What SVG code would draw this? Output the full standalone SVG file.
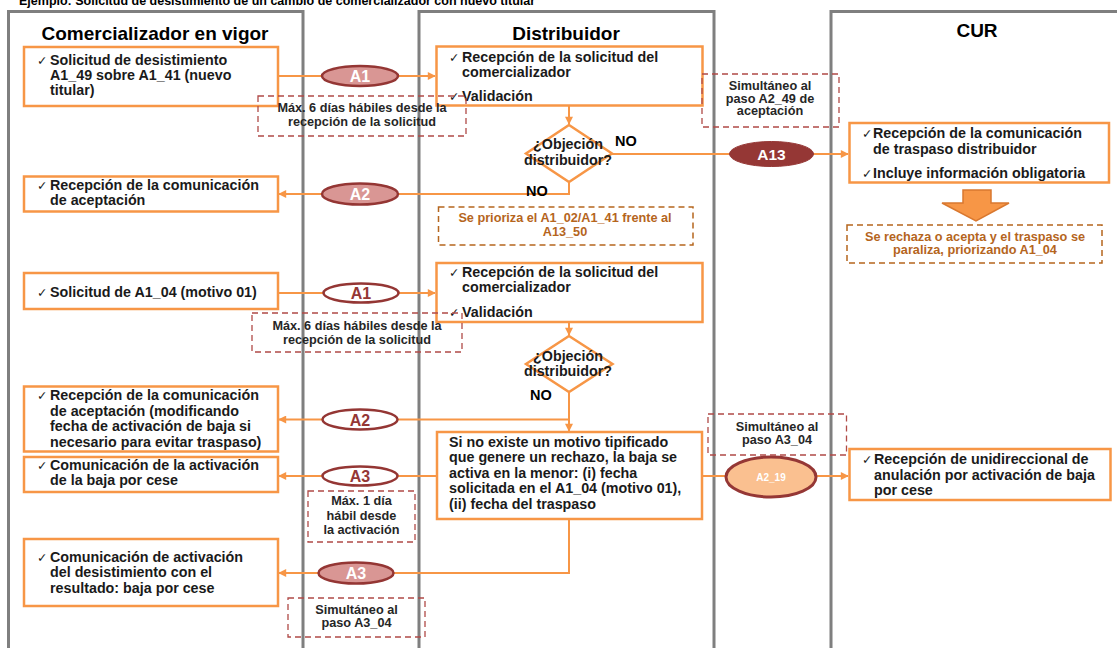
<svg xmlns="http://www.w3.org/2000/svg" width="1117" height="648" viewBox="0 0 1117 648">
<defs>
<style>
.lane{fill:none;stroke:#7F7F7F;stroke-width:3}
.box{fill:#fff;stroke:#F79646;stroke-width:2.5}
.dia{fill:#fff;stroke:#F79646;stroke-width:2.5}
.con{fill:none;stroke:#F79646;stroke-width:2}
.dr{fill:none;stroke:#B04A47;stroke-width:1.3;stroke-dasharray:6 4}
.db{fill:none;stroke:#B5651D;stroke-width:1.5;stroke-dasharray:6 4}
text{font-family:"Liberation Sans",Arial,sans-serif;font-weight:bold}
.t{font-size:14.3px;fill:#1a1a1a}
.ck{font-family:"DejaVu Sans",sans-serif;font-weight:normal;font-size:12.5px}
.h{font-size:19px;fill:#000;text-anchor:middle}
.n{font-size:12.7px;fill:#262626;text-anchor:middle}
.nb{font-size:12.7px;fill:#B5651D;text-anchor:middle}
.dt{font-size:14.3px;fill:#1a1a1a;text-anchor:middle}
.no{font-size:14.5px;fill:#000}
.ep{fill:#D99694;stroke:#943634;stroke-width:2.5}
.ew{fill:#fff;stroke:#943634;stroke-width:2.5}
.ed{fill:#953735;stroke:#953735;stroke-width:1}
.eo{fill:#FAC090;stroke:#953735;stroke-width:3}
.lw{font-size:16px;fill:#fff;text-anchor:middle}
.lr{font-size:16px;fill:#953735;text-anchor:middle}
</style>
<marker id="ah" viewBox="0 0 10 10" refX="9" refY="5" markerWidth="9" markerHeight="8" markerUnits="userSpaceOnUse" orient="auto">
<path d="M0,0 L10,5 L0,10 Z" fill="#F79646"/>
</marker>
</defs>
<rect width="1117" height="648" fill="#fff"/>
<text x="19" y="5" style="font-size:12.5px;fill:#000">Ejemplo: Solicitud de desistimiento de un cambio de comercializador con nuevo titular</text>

<g id="lanes">
<rect class="lane" x="8.5" y="11.5" width="294.5" height="660"/>
<rect class="lane" x="419" y="11.5" width="295" height="660"/>
<rect class="lane" x="831" y="11.5" width="300" height="660"/>
<text class="h" x="155" y="39.5">Comercializador en vigor</text>
<text class="h" x="566" y="40">Distribuidor</text>
<text class="h" x="977" y="37">CUR</text>
</g>

<g id="connectors">
<line class="con" x1="278" y1="76" x2="435" y2="76" marker-end="url(#ah)"/>
<line class="con" x1="569" y1="106" x2="569" y2="124" marker-end="url(#ah)"/>
<line class="con" x1="612" y1="154" x2="848" y2="154" marker-end="url(#ah)"/>
<polyline class="con" points="569,182 569,194 279,194" marker-end="url(#ah)"/>
<line class="con" x1="278" y1="293" x2="435" y2="293" marker-end="url(#ah)"/>
<line class="con" x1="569" y1="322" x2="569" y2="335" marker-end="url(#ah)"/>
<line class="con" x1="569" y1="392" x2="569" y2="431" marker-end="url(#ah)"/>
<line class="con" x1="569" y1="419.5" x2="279" y2="419.5" marker-end="url(#ah)"/>
<line class="con" x1="437" y1="476" x2="279" y2="476" marker-end="url(#ah)"/>
<line class="con" x1="702" y1="476" x2="848" y2="476" marker-end="url(#ah)"/>
<polyline class="con" points="569,519 569,573 279,573" marker-end="url(#ah)"/>
</g>

<g id="label-a1-1"><ellipse class="ep" cx="360" cy="76" rx="38" ry="10"/><text class="lw" x="360" y="82">A1</text></g>
<g id="label-a2-1"><ellipse class="ep" cx="360" cy="194" rx="38" ry="10.5"/><text class="lw" x="360" y="200">A2</text></g>
<g id="label-a13"><ellipse class="ed" cx="771.5" cy="154" rx="42" ry="12.5"/><text class="lw" x="771.5" y="159.5" style="font-size:15.5px">A13</text></g>
<g id="label-a1-2"><ellipse class="ew" cx="361" cy="293" rx="37.5" ry="9.5"/><text class="lr" x="361" y="299">A1</text></g>
<g id="label-a2-2"><ellipse class="ew" cx="360" cy="419.5" rx="37.5" ry="10"/><text class="lr" x="360" y="425.5">A2</text></g>
<g id="label-a3-1"><ellipse class="ew" cx="360" cy="476" rx="37.5" ry="9.5"/><text class="lr" x="360" y="482">A3</text></g>
<g id="label-a2-19"><ellipse class="eo" cx="771" cy="477" rx="45" ry="20"/><text x="771" y="481" style="font-size:10px;fill:#fff;text-anchor:middle">A2_19</text></g>
<g id="label-a3-2"><ellipse class="ep" cx="356" cy="573" rx="37.5" ry="10.5"/><text class="lw" x="356" y="579">A3</text></g>

<g id="box-l1"><rect class="box" x="24" y="47" width="254" height="59"/>
<text class="t" x="37" y="65"><tspan class="ck">✓</tspan><tspan x="50">Solicitud de desistimiento</tspan></text>
<text class="t" x="50" y="80">A1_49 sobre A1_41 (nuevo</text>
<text class="t" x="50" y="95">titular)</text></g>

<g id="box-d1"><rect class="box" x="436.5" y="46.5" width="266" height="59"/>
<text class="t" x="449" y="62"><tspan class="ck">✓</tspan><tspan x="462">Recepción de la solicitud del</tspan></text>
<text class="t" x="462" y="76.5">comercializador</text>
<text class="t" x="449" y="101"><tspan class="ck">✓</tspan><tspan x="462">Validación</tspan></text></g>

<g id="note-1"><rect class="dr" x="258" y="96" width="208" height="40"/>
<text class="n" x="362" y="112">Máx. 6 días hábiles desde la</text>
<text class="n" x="362" y="126">recepción de la solicitud</text></g>

<g id="note-2"><rect class="dr" x="702" y="74" width="137" height="53"/>
<text class="n" x="770" y="90">Simultáneo al</text>
<text class="n" x="770" y="102.5">paso A2_49 de</text>
<text class="n" x="770" y="115">aceptación</text></g>

<g id="decision-1"><polygon class="dia" points="569,125 612,153.5 569,182 526,153.5"/>
<text class="dt" x="568" y="149">¿Objeción</text>
<text class="dt" x="568" y="164.5">distribuidor?</text>
<text class="no" x="615" y="146">NO</text>
<text class="no" x="526" y="196">NO</text></g>

<g id="box-cur1"><rect class="box" x="849.5" y="123" width="259.5" height="59.5"/>
<text class="t" x="862" y="137.5"><tspan class="ck">✓</tspan><tspan x="873">Recepción de la comunicación</tspan></text>
<text class="t" x="873" y="153.5">de traspaso distribuidor</text>
<text class="t" x="862" y="177.5"><tspan class="ck">✓</tspan><tspan x="873">Incluye información obligatoria</tspan></text></g>

<g id="block-arrow"><polygon points="963,190 991,190 991,203 1009,203 976,221 942,203 963,203" fill="#F79646" stroke="#D9782F" stroke-width="1.5"/></g>

<g id="note-cur"><rect class="db" x="847" y="225" width="255" height="38"/>
<text class="nb" x="975" y="241">Se rechaza o acepta y el traspaso se</text>
<text class="nb" x="975" y="254">paraliza, priorizando A1_04</text></g>

<g id="box-l2"><rect class="box" x="24" y="176.5" width="254" height="35"/>
<text class="t" x="37" y="190"><tspan class="ck">✓</tspan><tspan x="50">Recepción de la comunicación</tspan></text>
<text class="t" x="50" y="205">de aceptación</text></g>

<g id="note-priority"><rect class="db" x="438.5" y="207" width="254.5" height="38"/>
<text class="nb" x="565" y="222">Se prioriza el A1_02/A1_41 frente al</text>
<text class="nb" x="565" y="235.5">A13_50</text></g>

<g id="box-l3"><rect class="box" x="24" y="273" width="254" height="36"/>
<text class="t" x="37" y="297"><tspan class="ck">✓</tspan><tspan x="50">Solicitud de A1_04 (motivo 01)</tspan></text></g>

<g id="box-d2"><rect class="box" x="436.5" y="263" width="266" height="59"/>
<text class="t" x="449" y="277"><tspan class="ck">✓</tspan><tspan x="462">Recepción de la solicitud del</tspan></text>
<text class="t" x="462" y="292">comercializador</text>
<text class="t" x="449" y="317"><tspan class="ck">✓</tspan><tspan x="462">Validación</tspan></text></g>

<g id="note-3"><rect class="dr" x="252" y="313" width="210" height="39"/>
<text class="n" x="357" y="330">Máx. 6 días hábiles desde la</text>
<text class="n" x="357" y="343.5">recepción de la solicitud</text></g>

<g id="decision-2"><polygon class="dia" points="569,336 612.5,364 569,392 526,364"/>
<text class="dt" x="568" y="360.5">¿Objeción</text>
<text class="dt" x="568" y="376">distribuidor?</text>
<text class="no" x="530" y="400">NO</text></g>

<g id="box-l4"><rect class="box" x="24" y="386.5" width="254" height="65"/>
<text class="t" x="37" y="400"><tspan class="ck">✓</tspan><tspan x="50">Recepción de la comunicación</tspan></text>
<text class="t" x="50" y="415.5">de aceptación (modificando</text>
<text class="t" x="50" y="431">fecha de activación de baja si</text>
<text class="t" x="50" y="446.5">necesario para evitar traspaso)</text></g>

<g id="note-4"><rect class="dr" x="708" y="414" width="138.5" height="41"/>
<text class="n" x="777" y="430.5">Simultáneo al</text>
<text class="n" x="777" y="443.5">paso A3_04</text></g>

<g id="box-d3"><rect class="box" x="437" y="432" width="265" height="87"/>
<text class="t" x="449" y="447">Si no existe un motivo tipificado</text>
<text class="t" x="449" y="462">que genere un rechazo, la baja se</text>
<text class="t" x="449" y="477.5">activa en la menor: (i) fecha</text>
<text class="t" x="449" y="493">solicitada en el A1_04 (motivo 01),</text>
<text class="t" x="449" y="508.5">(ii) fecha del traspaso</text></g>

<g id="box-cur2"><rect class="box" x="849.5" y="449" width="261" height="51"/>
<text class="t" x="862" y="464"><tspan class="ck">✓</tspan><tspan x="874">Recepción de unidireccional de</tspan></text>
<text class="t" x="874" y="479.5">anulación por activación de baja</text>
<text class="t" x="874" y="494.5">por cese</text></g>

<g id="box-l5"><rect class="box" x="24" y="457" width="254" height="35"/>
<text class="t" x="37" y="470"><tspan class="ck">✓</tspan><tspan x="50">Comunicación de la activación</tspan></text>
<text class="t" x="50" y="485">de la baja por cese</text></g>

<g id="note-5"><rect class="dr" x="308" y="491" width="107" height="51"/>
<text class="n" x="361.5" y="505">Máx. 1 día</text>
<text class="n" x="361.5" y="519.5">hábil desde</text>
<text class="n" x="361.5" y="533.5">la activación</text></g>

<g id="box-l6"><rect class="box" x="24" y="539" width="254" height="67"/>
<text class="t" x="37" y="562"><tspan class="ck">✓</tspan><tspan x="50">Comunicación de activación</tspan></text>
<text class="t" x="50" y="577">del desistimiento con el</text>
<text class="t" x="50" y="593">resultado: baja por cese</text></g>

<g id="note-6"><rect class="dr" x="288" y="598" width="137" height="39"/>
<text class="n" x="356.5" y="614">Simultáneo al</text>
<text class="n" x="356.5" y="626.5">paso A3_04</text></g>
</svg>
